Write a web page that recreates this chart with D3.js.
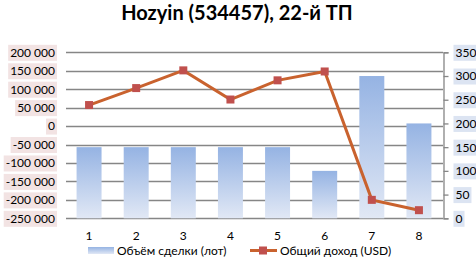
<!DOCTYPE html>
<html>
<meta charset="utf-8" />
<script src="https://d3js.org/d3.v7.min.js"></script>
<style>
  body { margin: 0; background: #fff; }
  text { font-family: Lato, "Liberation Sans", sans-serif; }
</style>
<body>
<div id="chart"></div>
<script>
// data
var categories = [1, 2, 3, 4, 5, 6, 7, 8];
var lots = [150, 150, 150, 150, 150, 100, 300, 200];
var income = [57000, 103000, 151000, 72000, 124000, 148000, -200000, -228000];
var leftTicks = [200000, 150000, 100000, 50000, 0, -50000, -100000, -150000, -200000, -250000];
var rightTicks = [0, 50, 100, 150, 200, 250, 300, 350];
var title = "Hozyin (534457), 22-й ТП";
var barName = "Объём сделки (лот)";
var lineName = "Общий доход (USD)";

var width = 476, height = 258;
var plot = {left: 65.5, right: 442.5, top: 52.3, bottom: 218.3};

var svg = d3.select("#chart").append("svg")
  .attr("width", width)
  .attr("height", height);

svg.append("rect").attr("width", width).attr("height", height).attr("fill", "#fff");

var defs = svg.append("defs");
var grad = defs.append("linearGradient")
  .attr("id", "barGrad")
  .attr("x1", 0).attr("y1", 0).attr("x2", 0).attr("y2", 1);
grad.append("stop").attr("offset", "0%").attr("stop-color", "#95b3e3");
grad.append("stop").attr("offset", "100%").attr("stop-color", "#e1e8f5");

var x = d3.scaleBand()
  .domain(categories)
  .range([plot.left, plot.right])
  .paddingInner(0.47)
  .paddingOuter(0.235);

var yL = d3.scaleLinear()
  .domain([-250000, 200000])
  .range([plot.bottom, plot.top]);

var yR = d3.scaleLinear()
  .domain([0, 350])
  .range([plot.bottom, plot.top]);

// title
svg.append("text")
  .attr("x", 237)
  .attr("y", 20)
  .attr("text-anchor", "middle")
  .attr("font-size", 20)
  .attr("font-weight", "bold")
  .attr("fill", "#000")
  .text(title);

// grid
svg.append("g").selectAll("line")
  .data(leftTicks)
  .enter().append("line")
  .attr("x1", 66).attr("x2", 443)
  .attr("y1", function(d) { return Math.round(yL(d)) + 0.5; })
  .attr("y2", function(d) { return Math.round(yL(d)) + 0.5; })
  .attr("stroke", "#868686")
  .attr("stroke-width", 1.3);

// bars
svg.append("g").selectAll("rect")
  .data(lots)
  .enter().append("rect")
  .attr("x", function(d, i) { return x(categories[i]); })
  .attr("width", x.bandwidth())
  .attr("y", function(d) { return yR(d); })
  .attr("height", function(d) { return yR(0) - yR(d); })
  .attr("fill", "url(#barGrad)");

// right axis
var rAxis = svg.append("g")
  .attr("transform", "translate(443.5,0)")
  .call(d3.axisRight(yR).tickValues(rightTicks).tickSize(5).tickPadding(7)
    .tickFormat(function(d) { return d; }));
rAxis.select(".domain").attr("stroke", "#868686").attr("stroke-width", 1.3);
rAxis.selectAll(".tick line").attr("stroke", "#868686").attr("stroke-width", 1.3);
rAxis.selectAll(".tick text").attr("font-size", 12).attr("fill", "#000")
  .attr("font-family", "Lato, 'Liberation Sans', sans-serif");

// left axis
var lAxis = svg.append("g")
  .attr("transform", "translate(66,0)")
  .call(d3.axisLeft(yL).tickValues(leftTicks).tickSize(0).tickPadding(11)
    .tickFormat(function(d) { return d3.format(",")(d).replace(/,/g, " ").replace("\u2212", "-"); }));
lAxis.select(".domain").remove();
lAxis.selectAll(".tick text").attr("font-size", 12).attr("fill", "#000")
  .attr("font-family", "Lato, 'Liberation Sans', sans-serif");

// label backgrounds
function addBg(axis, color) {
  axis.selectAll(".tick").each(function() {
    var t = d3.select(this).select("text");
    var b = t.node().getBBox();
    d3.select(this).insert("rect", "text")
      .attr("x", b.x - 2).attr("y", -8)
      .attr("width", b.width + 4).attr("height", 16)
      .attr("fill", color);
  });
}
addBg(lAxis, "#f2e3e3");
addBg(rAxis, "#dce4f2");

// category labels
svg.append("g").selectAll("text")
  .data(categories)
  .enter().append("text")
  .attr("x", function(d) { return x(d) + x.bandwidth() / 2; })
  .attr("y", 240)
  .attr("text-anchor", "middle")
  .attr("font-size", 12)
  .text(function(d) { return d; });

// line
var line = d3.line()
  .x(function(d, i) { return x(categories[i]) + x.bandwidth() / 2; })
  .y(function(d) { return yL(d); });

svg.append("path")
  .datum(income)
  .attr("fill", "none")
  .attr("stroke", "#c9622e")
  .attr("stroke-width", 3)
  .attr("d", line);

svg.append("g").selectAll("rect")
  .data(income)
  .enter().append("rect")
  .attr("x", function(d, i) { return x(categories[i]) + x.bandwidth() / 2 - 4; })
  .attr("y", function(d) { return yL(d) - 4; })
  .attr("width", 8).attr("height", 8)
  .attr("fill", "#c0504d");

// legend
var lg = svg.append("g");
lg.append("rect")
  .attr("x", 88).attr("y", 247).attr("width", 26).attr("height", 7)
  .attr("fill", "url(#barGrad)");
lg.append("text").attr("x", 117).attr("y", 255).attr("font-size", 12).text(barName);
lg.append("line")
  .attr("x1", 250).attr("x2", 277).attr("y1", 250.5).attr("y2", 250.5)
  .attr("stroke", "#c9622e").attr("stroke-width", 3);
lg.append("rect")
  .attr("x", 259).attr("y", 246.5).attr("width", 8).attr("height", 8)
  .attr("fill", "#c0504d");
lg.append("text").attr("x", 280).attr("y", 255).attr("font-size", 12).text(lineName);
</script>
</body>
</html>
